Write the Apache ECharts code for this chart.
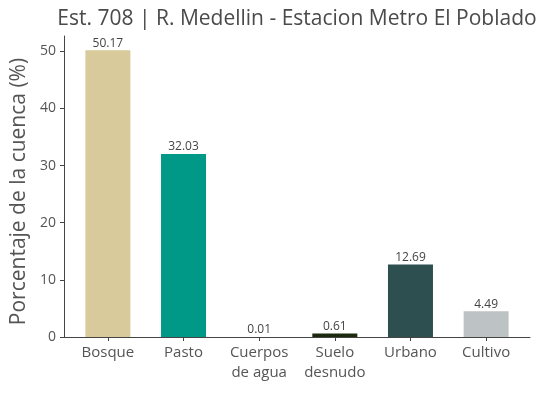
<!DOCTYPE html>
<html><head><meta charset="utf-8">
<script src="https://cdn.jsdelivr.net/npm/echarts@6/dist/echarts.min.js"></script>
<style>html,body{margin:0;padding:0;background:#fff}#c{width:544px;height:393px}</style>
</head><body><div id="c"></div>
<script>
const categories = ['Bosque', 'Pasto', 'Cuerpos\nde agua', 'Suelo\ndesnudo', 'Urbano', 'Cultivo'];
const values = [50.17, 32.03, 0.01, 0.61, 12.69, 4.49];
const colors = ['#D9CA9C', '#009886', '#3A7FB8', '#1B2A0F', '#2E4F4F', '#BDC2C4'];
const yTicks = [0, 10, 20, 30, 40, 50];
const titleText = 'Est. 708 | R. Medellin - Estacion Metro El Poblado';
const yName = 'Porcentaje de la cuenca (%)';

const font = '"Open Sans", Lato, sans-serif';
const chart = echarts.init(document.getElementById('c'), null, {renderer: 'canvas'});
const idx = categories.map((_, i) => i);
chart.setOption({
  animation: false,
  title: {text: titleText, left: 292, textAlign: 'center', top: 4,
    textStyle: {fontFamily: font, fontSize: 21, fontWeight: 'normal', color: '#4a4a4a'}},
  grid: {left: 64, right: 14, top: 36, bottom: 56, containLabel: false},
  xAxis: {
    type: 'value', min: -0.58, max: 5.58,
    splitLine: {show: false},
    axisLine: {show: true, onZero: false, lineStyle: {color: '#444', width: 1}},
    axisTick: {show: true, customValues: idx, length: 4, lineStyle: {color: '#444'}},
    axisLabel: {show: true, customValues: idx, formatter: v => categories[Math.round(v)],
      fontFamily: font, fontSize: 15, color: '#555', margin: 6, lineHeight: 20}
  },
  yAxis: {
    type: 'value', min: 0, max: 52.68,
    splitLine: {show: false},
    axisLine: {show: true, onZero: false, lineStyle: {color: '#444', width: 1}},
    axisTick: {show: true, customValues: yTicks, length: 4, lineStyle: {color: '#444'}},
    axisLabel: {show: true, customValues: yTicks, fontFamily: font, fontSize: 14, color: '#555', margin: 8},
    name: yName, nameLocation: 'middle', nameGap: 34,
    nameTextStyle: {fontFamily: font, fontSize: 21, color: '#555', padding: [0, 10, 0, 0]}
  },
  series: [{
    type: 'bar', barWidth: 45,
    data: values.map((v, i) => ({value: [i, v], itemStyle: {color: colors[i]}})),
    label: {show: true, position: 'top', distance: 1,
      formatter: p => p.value[1].toFixed(2),
      fontFamily: font, fontSize: 12, color: '#444'}
  }]
});
</script></body></html>
